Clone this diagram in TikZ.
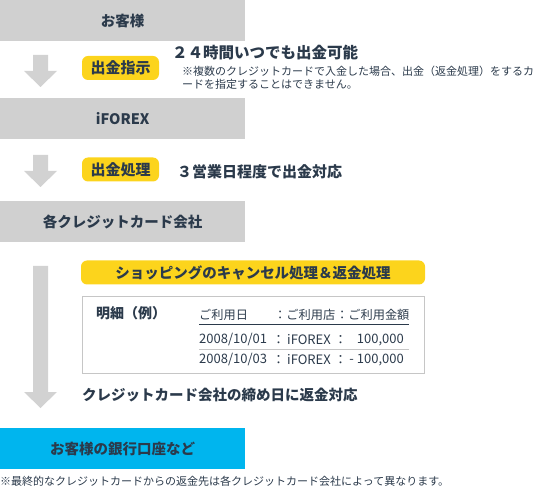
\documentclass[tikz,border=0pt]{standalone}
\usepackage{fontspec}
\setmainfont{Noto Sans CJK JP}
\definecolor{boxgray}{HTML}{D0D0D0}
\definecolor{arrgray}{HTML}{D2D2D2}
\definecolor{pillyel}{HTML}{FCD41C}
\definecolor{bankblue}{HTML}{00B5EE}
\definecolor{inkdark}{HTML}{2B3A4B}
\definecolor{framegray}{HTML}{C6C6C6}
\begin{document}
\begin{tikzpicture}[x=1pt, y=-1pt,
    stage/.style={rectangle, fill=boxgray, minimum width=245pt, minimum height=41pt,
                  inner sep=0pt, anchor=north west, text=inkdark, font=\bfseries\fontsize{14.5}{16}\selectfont},
    pill/.style={rectangle, fill=pillyel, rounded corners=6pt, inner sep=0pt,
                 minimum height=24pt, text=inkdark, font=\bfseries\fontsize{15}{17}\selectfont},
    lead/.style={anchor=west, inner sep=0pt, text=inkdark, font=\bfseries\fontsize{14.5}{16}\selectfont},
    memo/.style={anchor=west, inner sep=0pt, text=inkdark, font=\fontsize{11}{13}\selectfont},
    cell/.style={anchor=west, inner sep=0pt, text=inkdark, font=\fontsize{13}{15}\selectfont},
    headcell/.style={cell, font=\fontsize{12.2}{15}\selectfont}
]
    \useasboundingbox (0,0) rectangle (536,489);

    % flow arrows
    \foreach \ytop/\ybot in {55/87, 155/187, 266/408}
        \fill[arrgray] (33,\ytop) -- (48,\ytop) -- (48,\ybot-16) -- (57,\ybot-16)
            -- (40.5,\ybot) -- (24,\ybot-16) -- (33,\ybot-16) -- cycle;

    % stages
    \node[stage] (customer) at (0,0) {お客様};
    \node[stage] (iforex)   at (0,98) {iFOREX};
    \node[stage] (cardco)   at (0,201) {各クレジットカード会社};
    \node[stage, fill=bankblue] (bank) at (0,428) {お客様の銀行口座など};

    % withdrawal request
    \node[pill, minimum width=77pt] (request) at (120.5,68) {出金指示};
    \node[lead, font=\bfseries\fontsize{15.5}{17}\selectfont] (anytime) at (172,53) {２４時間いつでも出金可能};
    \node[memo, align=left, anchor=north west] (caution) at (182,65.5)
        {※複数のクレジットカードで入金した場合、出金（返金処理）をするカ\\ードを指定することはできません。};

    % withdrawal processing
    \node[pill, minimum width=77pt] (process) at (120.5,169.5) {出金処理};
    \node[lead, font=\bfseries\fontsize{15}{17}\selectfont] (days) at (177,172) {３営業日程度で出金対応};

    % refund
    \node[pill, minimum width=344pt, font=\bfseries\fontsize{14.5}{16}\selectfont] (cancel) at (253,272.5)
        {ショッピングのキャンセル処理＆返金処理};
    \node[rectangle, draw=framegray, line width=0.8pt, minimum width=342pt, minimum height=77pt,
          inner sep=0pt, anchor=north west] (statement) at (82,296) {};
    \node[cell, font=\bfseries\fontsize{14}{16}\selectfont] (example) at (96,313) {明細（例）};
    \node[headcell] (hdate)  at (199,315) {ご利用日};
    \node[headcell] (hshop)  at (274,315) {：ご利用店};
    \node[headcell] (hsum)   at (336,315) {：ご利用金額};
    \node[cell] (date1)  at (199,340) {2008/10/01};
    \node[cell] (sep1a)  at (272,340) {：};
    \node[cell] (shop1)  at (287,340) {iFOREX};
    \node[cell] (sep1b)  at (334,340) {：};
    \node[cell, anchor=east] (sum1) at (404,340) {100,000};
    \node[cell] (date2)  at (199,360) {2008/10/03};
    \node[cell] (sep2a)  at (272,360) {：};
    \node[cell] (shop2)  at (287,360) {iFOREX};
    \node[cell] (sep2b)  at (334,360) {：};
    \node[cell, anchor=east] (sum2) at (404,360) {- 100,000};
    \draw[inkdark, line width=1pt] (199,325) -- (409,325);
    \draw[framegray, line width=0.7pt] (199,349.5) -- (409,349.5);
    \node[lead] (closing) at (82,395) {クレジットカード会社の締め日に返金対応};

    % footnote
    \node[memo] (footnote) at (0,481) {※最終的なクレジットカードからの返金先は各クレジットカード会社によって異なります。};
\end{tikzpicture}
\end{document}
